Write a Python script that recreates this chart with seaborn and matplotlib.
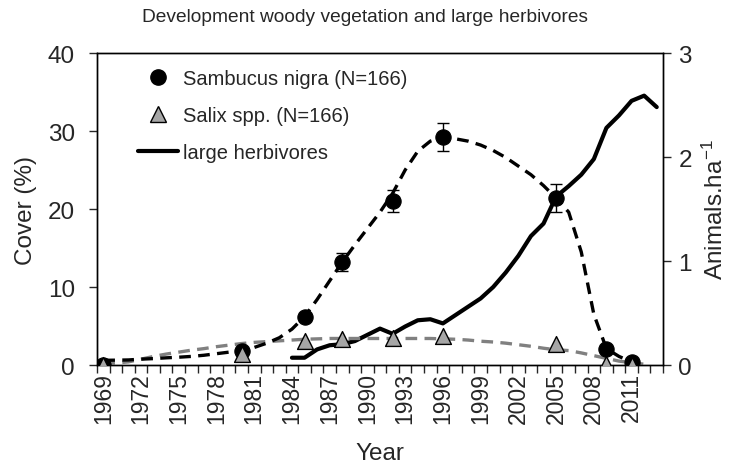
"""Development of woody vegetation cover and large herbivore density."""

import matplotlib

matplotlib.use("Agg")

import matplotlib.pyplot as plt
import numpy as np
import pandas as pd
import seaborn as sns
from matplotlib.lines import Line2D
from matplotlib.ticker import FixedLocator

# observed plots (mean cover, %)
survey_years = [1969, 1980, 1985, 1988, 1992, 1996, 2005, 2009, 2011]
sambucus_cover = [0.0, 1.8, 6.2, 13.2, 21.0, 29.2, 21.4, 2.1, 0.4]
sambucus_se = [0.0, 0.3, 0.5, 1.1, 1.4, 1.8, 1.8, 0.3, 0.1]
salix_cover = [0.0, 1.4, 3.1, 3.3, 3.4, 3.7, 2.7, 0.1, 0.0]

# smoothed trend curves
sambucus_fit_years = list(range(1969, 2012))
sambucus_fit = [0.6, 0.62, 0.65, 0.75, 0.82, 0.92, 1.0, 1.1, 1.25, 1.45, 1.65, 1.9,
                2.25, 2.8, 3.5, 4.6, 6.2, 8.4, 10.8, 13.2, 15.4, 17.5, 19.6, 22.0,
                25.0, 27.4, 28.7, 29.2, 29.0, 28.7, 28.2, 27.5, 26.6, 25.5, 24.4, 23.0,
                21.4, 19.6, 14.5, 6.5, 2.1, 1.1, 0.4]
salix_fit_years = list(range(1969, 2013))
salix_fit = [0.2, 0.25, 0.4, 0.75, 1.1, 1.4, 1.65, 1.9, 2.1, 2.35, 2.55, 2.75,
             2.9, 3.0, 3.1, 3.2, 3.3, 3.35, 3.4, 3.4, 3.4, 3.4, 3.4, 3.4,
             3.4, 3.4, 3.4, 3.35, 3.3, 3.2, 3.05, 2.95, 2.8, 2.6, 2.4, 2.15,
             1.95, 1.85, 1.55, 1.2, 0.85, 0.5, 0.3, 0.1]

# large herbivores (animals per ha)
herbivore_years = list(range(1984, 2014))
herbivore_density = [0.07, 0.07, 0.15, 0.19, 0.20, 0.23, 0.29, 0.35, 0.30, 0.37,
                     0.43, 0.44, 0.40, 0.48, 0.56, 0.64, 0.75, 0.89, 1.05, 1.24,
                     1.36, 1.62, 1.72, 1.83, 1.98, 2.28, 2.40, 2.54, 2.59, 2.48]

year_labels = list(range(1969, 2012, 3))

sns.set_style("ticks")
plt.rcParams["font.family"] = ["Liberation Sans", "DejaVu Sans"]
plt.rcParams["mathtext.fontset"] = "custom"
plt.rcParams["mathtext.rm"] = "Liberation Sans"

points = pd.DataFrame({"year": survey_years, "sambucus": sambucus_cover,
                       "se": sambucus_se, "salix": salix_cover})
sambucus_trend = pd.DataFrame({"year": sambucus_fit_years, "cover": sambucus_fit})
salix_trend = pd.DataFrame({"year": salix_fit_years, "cover": salix_fit})
herbivores = pd.DataFrame({"year": herbivore_years, "density": herbivore_density})

fig = plt.figure(figsize=(7.31, 4.64), dpi=100)
ax_h = fig.add_axes([0.1327, 0.2112, 0.7743, 0.6724])
ax_c = ax_h.twinx()  # cover drawn on top of the herbivore line

sns.lineplot(data=herbivores, x="year", y="density", ax=ax_h, color="black",
             linewidth=3.0, solid_joinstyle="round")

sns.lineplot(data=salix_trend, x="year", y="cover", ax=ax_c, color="#808080",
             linewidth=2.4, linestyle=(0, (3.5, 2.2)))
sns.lineplot(data=sambucus_trend, x="year", y="cover", ax=ax_c, color="black",
             linewidth=2.4, linestyle=(0, (3.5, 2.2)))
ax_c.errorbar(points["year"], points["sambucus"], yerr=points["se"], fmt="none",
              ecolor="black", elinewidth=1.0, capsize=4, capthick=1.0, zorder=3)
sns.scatterplot(data=points, x="year", y="sambucus", ax=ax_c, marker="o", s=120,
                color="black", edgecolor="black", zorder=4)
sns.scatterplot(data=points, x="year", y="salix", ax=ax_c, marker="^", s=130,
                color="#A6A6A6", edgecolor="black", linewidth=1.0, zorder=5)

# left axis: cover, right axis: herbivores
ax_c.yaxis.tick_left()
ax_c.yaxis.set_label_position("left")
ax_h.yaxis.tick_right()
ax_h.yaxis.set_label_position("right")

ax_c.set_ylim(0, 40)
ax_c.set_yticks([0, 10, 20, 30, 40])
ax_h.set_ylim(0, 3)
ax_h.set_yticks([0, 1, 2, 3])

ax_h.set_xlim(1968.5, 2013.5)
ax_h.set_xticks(year_labels)
ax_h.set_xticklabels([str(y) for y in year_labels], rotation=90)
ax_h.xaxis.set_minor_locator(FixedLocator(np.arange(1968.5, 2014.0, 1.0)))
ax_h.tick_params(axis="x", which="major", length=0, labelsize=16.5, pad=5)
ax_h.tick_params(axis="x", which="minor", length=6, width=1.0, direction="out")
ax_h.tick_params(axis="y", labelsize=17.5, length=6, width=1.0, direction="out", pad=5,
                 right=True, left=False, labelright=True, labelleft=False)
ax_c.tick_params(axis="y", labelsize=17.5, length=6, width=1.0, direction="out", pad=10,
                 left=True, right=False, labelleft=True, labelright=False)

for axis in (ax_h, ax_c):
    for spine in axis.spines.values():
        spine.set_linewidth(1.0)
        spine.set_color("black")
        spine.set_visible(True)

ax_h.set_xlabel("Year", fontsize=17.5, labelpad=14)
ax_c.set_xlabel("")
ax_c.set_ylabel("Cover (%)", fontsize=17.5, labelpad=8)
ax_h.set_ylabel("Animals.ha$\\mathregular{^{-1}}$", fontsize=17.5, labelpad=8)

handles = [
    Line2D([], [], linestyle="none", marker="o", markersize=11, color="black"),
    Line2D([], [], linestyle="none", marker="^", markersize=11,
           markerfacecolor="#A6A6A6", markeredgecolor="black"),
    Line2D([], [], color="black", linewidth=3.0),
]
labels = ["Sambucus nigra (N=166)", "Salix spp. (N=166)", "large herbivores"]
ax_c.legend(handles, labels, loc="upper left", bbox_to_anchor=(0.058, 0.975),
            frameon=False, fontsize=14.5, handlelength=2.0, handletextpad=0.25,
            labelspacing=0.9, borderaxespad=0)

fig.text(0.5, 1 - 18 / 464, "Development woody vegetation and large herbivores",
         ha="center", va="center", fontsize=13.8)

fig.savefig("out.png", dpi=100)
